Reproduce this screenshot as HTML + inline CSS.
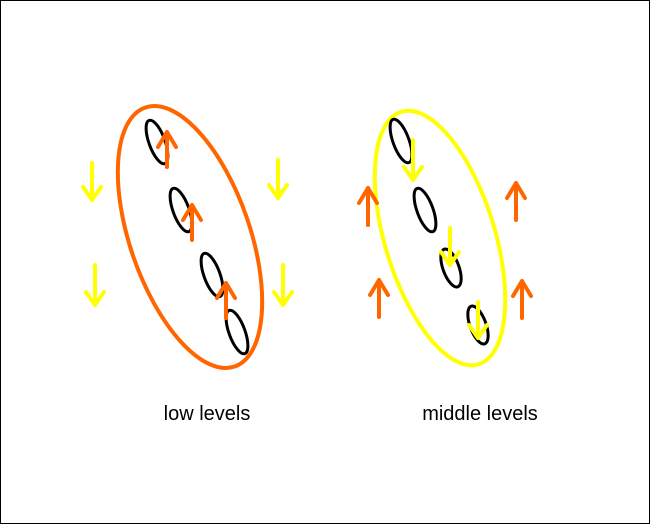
<!DOCTYPE html>
<html><head><style>
html,body{margin:0;padding:0;background:#fff}
svg{display:block}
text{font-family:"Liberation Sans",sans-serif;font-size:20px}
</style></head><body>
<svg width="650" height="524" viewBox="0 0 650 524">
<rect x="0.5" y="0.5" width="649" height="523" fill="#fff" stroke="#000"/>
<g fill="none" stroke-linecap="round" stroke-linejoin="round">
<ellipse cx="190" cy="237" rx="60" ry="137" transform="rotate(-19 190 237)" stroke="#ff6600" stroke-width="4"/>
<g stroke="#000" stroke-width="3">
<ellipse cx="157" cy="142" rx="8" ry="23" transform="rotate(-20 157 142)"/>
<ellipse cx="181" cy="210" rx="8" ry="23" transform="rotate(-20 181 210)"/>
<ellipse cx="212" cy="275" rx="8" ry="23" transform="rotate(-20 212 275)"/>
<ellipse cx="237" cy="332" rx="8" ry="23" transform="rotate(-20 237 332)"/>
</g>
<g stroke="#ff6600" stroke-width="4">
<path d="M167 167V132M158 147L167 132L176 147"/>
<path d="M192 240V205M183 220L192 205L201 220"/>
<path d="M226 318V283M217 298L226 283L235 298"/>
</g>
<g stroke="#ffff00" stroke-width="4">
<path d="M92 163V200M83 187L92 200L101 187"/>
<path d="M278 160V198M269 185L278 198L287 185"/>
<path d="M95 265V305M86 292L95 305L104 292"/>
<path d="M283 265V305M274 292L283 305L292 292"/>
</g>
<ellipse cx="440" cy="238" rx="55" ry="132" transform="rotate(-17 440 238)" stroke="#ffff00" stroke-width="4"/>
<g stroke="#000" stroke-width="3">
<ellipse cx="401" cy="141" rx="8" ry="23" transform="rotate(-20 401 141)"/>
<ellipse cx="425" cy="210" rx="8" ry="23" transform="rotate(-20 425 210)"/>
<ellipse cx="451" cy="268" rx="8" ry="20" transform="rotate(-20 451 268)"/>
<ellipse cx="478" cy="325" rx="8" ry="20" transform="rotate(-20 478 325)"/>
</g>
<g stroke="#ffff00" stroke-width="4">
<path d="M413 140V180M404 167L413 180L422 167"/>
<path d="M450 228V265M441 252L450 265L459 252"/>
<path d="M478 302V338M469 325L478 338L487 325"/>
</g>
<g stroke="#ff6600" stroke-width="4">
<path d="M368 225V188M359 203L368 188L377 203"/>
<path d="M516 220V183M507 198L516 183L525 198"/>
<path d="M379 317V280M370 295L379 280L388 295"/>
<path d="M522 318V281M513 296L522 281L531 296"/>
</g>
</g>
<text x="207" y="420" text-anchor="middle">low levels</text>
<text x="480" y="420" text-anchor="middle">middle levels</text>
</svg>
</body></html>
